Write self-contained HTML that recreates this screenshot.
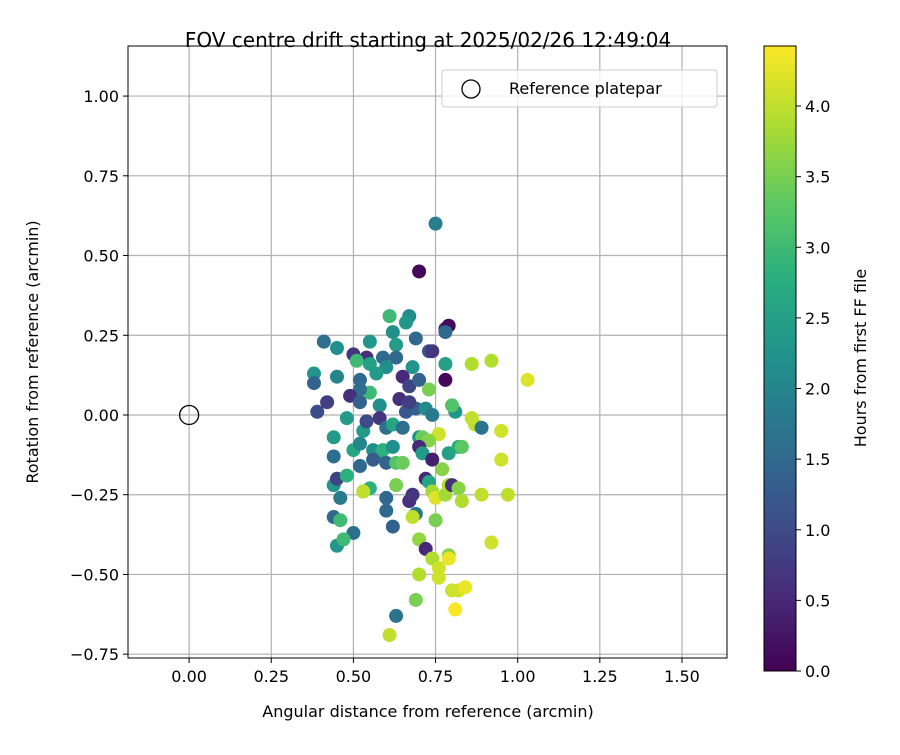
<!DOCTYPE html>
<html><head><meta charset="utf-8"><style>
body{margin:0;background:#fff}
svg text{font-family:"DejaVu Sans","Liberation Sans",sans-serif;fill:#000}
</style></head><body>
<svg id="c" width="900" height="750" xmlns="http://www.w3.org/2000/svg">
<defs>
<linearGradient id="vir" x1="0" y1="1" x2="0" y2="0">
<stop offset="0" stop-color="#440154"/><stop offset="0.125" stop-color="#472d7b"/><stop offset="0.25" stop-color="#3b528b"/><stop offset="0.375" stop-color="#2c728e"/><stop offset="0.5" stop-color="#21918c"/><stop offset="0.625" stop-color="#28ae80"/><stop offset="0.75" stop-color="#5ec962"/><stop offset="0.875" stop-color="#addc30"/><stop offset="1" stop-color="#fde725"/>
</linearGradient>
<clipPath id="clip"><rect x="128" y="46" width="599" height="612"/></clipPath>
</defs>
<g id="grid"></g>
<g id="pts" clip-path="url(#clip)"></g>
<rect x="128" y="46" width="599" height="612" fill="none" stroke="#000" stroke-width="1"/>
<g id="ticks"></g>
<text x="428" y="47" font-size="20" text-anchor="middle">FOV centre drift starting at 2025/02/26 12:49:04</text>
<text x="428" y="717" font-size="16" text-anchor="middle">Angular distance from reference (arcmin)</text>
<text transform="translate(38,352) rotate(-90)" font-size="16" text-anchor="middle">Rotation from reference (arcmin)</text>
<g>
<rect x="442" y="70" width="275" height="37" rx="3" fill="#fff" fill-opacity="0.8" stroke="#ccc"/>
<circle cx="471" cy="89" r="9" fill="none" stroke="#000" stroke-width="1.3"/>
<text x="509" y="94" font-size="16">Reference platepar</text>
</g>
<rect x="764" y="46" width="32" height="625" fill="url(#vir)" stroke="#000" stroke-width="1"/>
<g id="cbt"></g>
<text transform="translate(866,358) rotate(-90)" font-size="16" text-anchor="middle">Hours from first FF file</text>
</svg>
<script>
const xTicks=[0,0.25,0.5,0.75,1.0,1.25,1.5];
const yTicks=[-0.75,-0.5,-0.25,0,0.25,0.5,0.75,1.0];
const cTicks=[0,0.5,1,1.5,2,2.5,3,3.5,4];
const xs=[0.75,0.70,0.61,0.67,0.62,0.66,0.78,0.79,0.78,0.41,0.45,0.55,0.63,0.69,0.63,0.73,0.74,0.78,0.68,0.50,0.54,0.51,0.55,0.59,0.60,0.38,0.38,0.45,0.57,0.52,0.55,0.52,0.65,0.67,0.70,0.73,0.78,0.86,0.92,1.03,0.39,0.42,0.49,0.52,0.58,0.64,0.66,0.69,0.67,0.72,0.74,0.81,0.80,0.86,0.87,0.89,0.95,0.76,0.53,0.48,0.54,0.58,0.60,0.62,0.65,0.70,0.71,0.73,0.70,0.44,0.50,0.52,0.56,0.58,0.59,0.62,0.56,0.60,0.63,0.65,0.44,0.52,0.71,0.74,0.77,0.79,0.82,0.83,0.95,0.44,0.45,0.48,0.46,0.53,0.55,0.53,0.60,0.63,0.67,0.68,0.72,0.73,0.74,0.75,0.78,0.79,0.80,0.82,0.83,0.89,0.97,0.60,0.69,0.68,0.44,0.46,0.62,0.50,0.70,0.72,0.75,0.92,0.45,0.47,0.79,0.79,0.74,0.76,0.76,0.70,0.80,0.82,0.84,0.81,0.69,0.63,0.61];
const ys=[0.60,0.45,0.31,0.31,0.26,0.29,0.27,0.28,0.26,0.23,0.21,0.23,0.22,0.24,0.18,0.20,0.20,0.16,0.15,0.19,0.18,0.17,0.16,0.18,0.15,0.13,0.10,0.12,0.13,0.11,0.07,0.08,0.12,0.09,0.11,0.08,0.11,0.16,0.17,0.11,0.01,0.04,0.06,0.04,0.03,0.05,0.01,0.02,0.04,0.02,0.00,0.01,0.03,-0.01,-0.03,-0.04,-0.05,-0.06,-0.05,-0.01,-0.02,-0.01,-0.04,-0.03,-0.04,-0.07,-0.07,-0.08,-0.10,-0.07,-0.11,-0.09,-0.11,-0.12,-0.11,-0.10,-0.14,-0.15,-0.15,-0.15,-0.13,-0.16,-0.12,-0.14,-0.17,-0.12,-0.10,-0.10,-0.14,-0.22,-0.20,-0.19,-0.26,-0.24,-0.23,-0.24,-0.26,-0.22,-0.27,-0.25,-0.20,-0.21,-0.24,-0.26,-0.25,-0.22,-0.22,-0.23,-0.27,-0.25,-0.25,-0.30,-0.31,-0.32,-0.32,-0.33,-0.35,-0.37,-0.39,-0.42,-0.33,-0.40,-0.41,-0.39,-0.44,-0.45,-0.45,-0.48,-0.51,-0.50,-0.55,-0.55,-0.54,-0.61,-0.58,-0.63,-0.69];
const hours=[1.9,0.1,3.0,2.1,2.2,2.3,0.5,0.1,1.5,1.6,2.2,2.3,2.4,1.5,1.5,1.1,0.7,2.5,2.3,0.7,0.6,3.0,2.5,1.5,2.2,2.3,1.4,2.0,2.4,1.5,3.0,1.6,0.5,0.9,1.4,3.5,0.1,3.9,3.9,4.2,1.0,0.8,0.6,1.4,2.2,0.6,1.2,1.4,0.8,2.1,1.8,2.3,3.2,4.0,4.0,1.7,4.1,4.1,2.4,2.4,1.0,0.7,1.6,2.6,1.6,2.2,3.4,3.6,0.5,2.4,2.6,2.0,2.2,2.3,2.8,2.2,1.3,1.4,3.2,3.4,1.6,1.5,2.4,0.4,3.6,2.5,2.7,3.3,4.1,2.3,0.9,2.8,1.8,3.1,2.8,4.0,1.5,3.5,0.6,0.7,0.5,2.6,3.8,4.2,3.8,3.9,0.6,3.6,3.9,4.0,4.0,1.5,1.8,4.0,1.5,3.0,1.4,1.6,3.7,0.5,3.5,4.1,2.3,3.0,3.6,4.3,3.9,4.1,4.1,3.9,4.1,4.1,4.3,4.4,3.5,1.7,4.0];
const X0=128,X1=727,XMIN=-0.186,XMAX=1.637,Y0=658,Y1=46,YMIN=-0.762,YMAX=1.157;
const CMAX=4.425,CB0=671,CB1=46;
const sx=v=>X0+(v-XMIN)/(XMAX-XMIN)*(X1-X0);
const sy=v=>Y0-(v-YMIN)/(YMAX-YMIN)*(Y0-Y1);
const sc=v=>CB0-v/CMAX*(CB0-CB1);
const vir=["#440154","#472d7b","#3b528b","#2c728e","#21918c","#28ae80","#5ec962","#addc30","#fde725"];
function hex(h){return [1,3,5].map(i=>parseInt(h.substr(i,2),16));}
function cmap(t){t=Math.max(0,Math.min(1,t))*8;const i=Math.min(7,Math.floor(t)),f=t-i;const a=hex(vir[i]),b=hex(vir[i+1]);return "rgb("+a.map((v,k)=>Math.round(v+(b[k]-v)*f)).join(",")+")";}
const NS="http://www.w3.org/2000/svg";
function mk(tag,attrs,parent){const e=document.createElementNS(NS,tag);for(const k in attrs)e.setAttribute(k,attrs[k]);parent.appendChild(e);return e;}
const grid=document.getElementById('grid'),ticks=document.getElementById('ticks'),pts=document.getElementById('pts'),cbt=document.getElementById('cbt');
xTicks.forEach(v=>{const x=sx(v);
const g=mk('line',{x1:x,x2:x,y1:Y1,y2:Y0,stroke:'#b0b0b0','stroke-width':1.2},grid);


const t=mk('line',{x1:x,x2:x,y1:Y0,y2:Y0+5,stroke:'#000'},ticks);


const l=mk('text',{x:x,y:Y0+24,'font-size':16,'text-anchor':'middle'},ticks);l.textContent=v.toFixed(2);

});
yTicks.forEach(v=>{const y=sy(v);
const g=mk('line',{x1:X0,x2:X1,y1:y,y2:y,stroke:'#b0b0b0','stroke-width':1.2},grid);


const t=mk('line',{x1:X0-5,x2:X0,y1:y,y2:y,stroke:'#000'},ticks);


const l=mk('text',{x:X0-9,y:y+6,'font-size':16,'text-anchor':'end'},ticks);l.textContent=(v<0?"\u2212":"")+Math.abs(v).toFixed(2);

});
cTicks.forEach(v=>{const y=sc(v);
const t=mk('line',{x1:796,x2:801,y1:y,y2:y,stroke:'#000'},cbt);


const l=mk('text',{x:805,y:y+6,'font-size':16},cbt);l.textContent=v.toFixed(1);

});
xs.forEach((v,i)=>{const c=mk('circle',{cx:sx(v),cy:sy(ys[i]),r:7,fill:cmap(hours[i]/CMAX)},pts);

});
const r=mk('circle',{cx:sx(0),cy:sy(0),r:9.5,fill:'none',stroke:'#000','stroke-width':1.3},pts);


</script>
</body></html>
